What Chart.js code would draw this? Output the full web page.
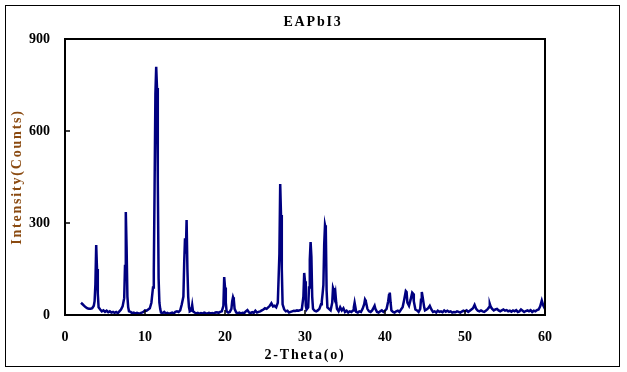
<!DOCTYPE html>
<html>
<head>
<meta charset="utf-8">
<script src="https://cdn.jsdelivr.net/npm/chart.js@4/dist/chart.umd.min.js"></script>
<style>
  html, body { margin: 0; padding: 0; background: #fff; }
  #wrap { width: 627px; height: 372px; }
</style>
</head>
<body>
<div id="wrap"><canvas id="c" width="627" height="372"></canvas></div>
<script>
// XRD pattern of EAPbI3
const twoTheta = [
  2.0, 2.2, 2.4, 2.6, 2.8, 3.0, 3.2, 3.4, 3.6, 3.7, 3.8, 3.9, 4.0, 4.1, 4.2, 4.4, 4.6, 4.8, 5.0, 5.2, 5.4, 5.6, 5.8, 6.0, 6.2, 6.4, 6.6, 6.8,
  7.0, 7.2, 7.4, 7.5, 7.6, 7.7, 7.8, 7.9, 8.0, 8.2, 8.4, 8.6, 8.8, 9.0, 9.2, 9.4, 9.6, 9.8, 10.0, 10.2, 10.4, 10.6, 10.8,
  11.0, 11.1, 11.2, 11.3, 11.4, 11.5, 11.6, 11.7, 11.8, 11.9, 12.0, 12.2, 12.4, 12.6, 12.8, 13.0, 13.2, 13.4, 13.6, 13.8,
  14.0, 14.2, 14.4, 14.6, 14.8, 14.9, 15.0, 15.1, 15.2, 15.3, 15.4, 15.5, 15.6, 15.8, 15.9, 16.0, 16.2, 16.4, 16.6, 16.8,
  17.0, 17.2, 17.4, 17.6, 17.8, 18.0, 18.2, 18.4, 18.6, 18.8, 19.0, 19.2, 19.4, 19.6, 19.8, 19.9, 20.0, 20.1, 20.2, 20.4,
  20.6, 20.8, 20.9, 21.0, 21.1, 21.2, 21.4, 21.6, 21.8, 22.0, 22.2, 22.4, 22.6, 22.8, 23.0, 23.2, 23.4, 23.6, 23.8,
  24.0, 24.2, 24.4, 24.6, 24.8, 25.0, 25.2, 25.4, 25.6, 25.8, 26.0, 26.2, 26.4, 26.6, 26.8, 26.9, 27.0, 27.1, 27.2, 27.4,
  27.6, 27.8, 28.0, 28.2, 28.4, 28.6, 28.8, 29.0, 29.2, 29.4, 29.6, 29.8, 29.9, 30.0, 30.1, 30.2, 30.4, 30.5, 30.6, 30.7,
  30.8, 30.9, 31.0, 31.2, 31.4, 31.6, 31.8, 32.0, 32.1, 32.2, 32.3, 32.4, 32.5, 32.6, 32.7, 32.8, 33.0, 33.2, 33.4, 33.5,
  33.6, 33.7, 33.8, 33.9, 34.0, 34.2, 34.4, 34.6, 34.8, 35.0, 35.2, 35.4, 35.6, 35.8, 36.0, 36.1, 36.2, 36.3, 36.4, 36.6,
  36.8, 37.0, 37.2, 37.4, 37.5, 37.6, 37.8, 38.0, 38.2, 38.4, 38.6, 38.7, 38.8, 39.0, 39.2, 39.4, 39.6, 39.8, 40.0, 40.2,
  40.4, 40.5, 40.6, 40.7, 40.8, 41.0, 41.2, 41.4, 41.6, 41.8, 42.0, 42.2, 42.4, 42.6, 42.7, 42.8, 43.0, 43.2, 43.4, 43.5,
  43.6, 43.8, 44.0, 44.2, 44.4, 44.5, 44.6, 44.7, 44.9, 45.0, 45.2, 45.4, 45.6, 45.8, 46.0, 46.2, 46.4, 46.6, 46.8, 47.0,
  47.2, 47.4, 47.6, 47.8, 48.0, 48.2, 48.4, 48.6, 48.8, 49.0, 49.2, 49.4, 49.6, 49.8, 50.0, 50.2, 50.4, 50.6, 50.8, 51.0,
  51.2, 51.4, 51.6, 51.8, 52.0, 52.2, 52.4, 52.6, 52.8, 53.0, 53.1, 53.2, 53.4, 53.6, 53.8, 54.0, 54.2, 54.4, 54.6, 54.8,
  55.0, 55.2, 55.4, 55.6, 55.8, 56.0, 56.2, 56.4, 56.6, 56.8, 57.0, 57.2, 57.4, 57.6, 57.8, 58.0, 58.2, 58.4, 58.6, 58.8,
  59.0, 59.2, 59.4, 59.6, 59.8, 60.0
];
const intensity = [
  40, 35, 30, 25, 22, 20, 20, 22, 30, 45, 100, 228, 150, 70, 25, 18, 12, 15, 10, 14, 9, 12, 8, 10, 7, 10, 6, 12,
  18, 28, 55, 160, 336, 220, 60, 25, 12, 10, 6, 8, 5, 7, 5, 6, 8, 10, 15, 14, 18, 22, 40,
  90, 140, 420, 720, 809, 740, 440, 120, 40, 20, 8, 6, 10, 5, 7, 4, 6, 8, 5, 10,
  12, 10, 15, 35, 60, 170, 250, 200, 310, 150, 60, 25, 12, 15, 32, 12, 8, 5, 7, 4,
  6, 5, 8, 6, 5, 7, 5, 6, 4, 8, 9, 7, 10, 12, 30, 124, 90, 40, 12, 8,
  10, 20, 45, 58, 50, 20, 8, 6, 8, 5, 7, 6, 12, 16, 8, 6, 9, 7, 14,
  8, 10, 12, 15, 18, 22, 20, 25, 30, 38, 28, 30, 25, 40, 200, 427, 326, 150, 35, 18,
  12, 14, 8, 10, 12, 14, 13, 15, 14, 16, 18, 60, 137, 110, 30, 18, 25, 90, 180, 238,
  190, 60, 20, 14, 12, 15, 20, 35, 45, 70, 98, 230, 293, 280, 80, 25, 20, 15, 40, 88,
  80, 60, 72, 40, 20, 12, 25, 15, 22, 10, 14, 8, 12, 10, 15, 25, 40, 25, 10, 8,
  12, 10, 20, 35, 50, 45, 20, 12, 10, 15, 25, 30, 20, 10, 8, 12, 15, 10, 14, 20,
  45, 65, 73, 40, 15, 10, 8, 12, 14, 10, 18, 25, 50, 78, 75, 40, 30, 50, 73, 70,
  45, 18, 15, 10, 20, 50, 75, 60, 25, 15, 18, 22, 30, 18, 10, 12, 8, 14, 10, 12,
  9, 15, 11, 14, 10, 12, 8, 10, 9, 12, 10, 8, 11, 14, 12, 15, 10, 14, 18, 22,
  33, 20, 14, 12, 15, 12, 10, 14, 18, 25, 36, 28, 20, 15, 18, 20, 15, 12, 15, 18,
  14, 16, 12, 14, 11, 15, 12, 16, 10, 12, 18, 14, 10, 13, 15, 12, 16, 10, 14, 12,
  16, 18, 28, 47, 30, 20
];
const xTicks = [0, 10, 20, 30, 40, 50, 60];
const yTicks = [0, 300, 600, 900];

const FONT = '"Liberation Serif", "DejaVu Serif", serif';

const framePlugin = {
  id: 'frame',
  afterDraw(chart) {
    const { ctx, chartArea: a, scales } = chart;
    ctx.save();
    // outer border round the whole picture
    ctx.strokeStyle = '#000';
    ctx.lineWidth = 1;
    ctx.strokeRect(5.5, 5.5, 614, 361);
    // plot box
    ctx.lineWidth = 2;
    ctx.strokeRect(a.left, a.top, a.right - a.left, a.bottom - a.top);
    // inside tick marks
    ctx.lineWidth = 1.5;
    ctx.beginPath();
    xTicks.forEach(v => {
      const x = scales.x.getPixelForValue(v);
      ctx.moveTo(x, a.bottom);
      ctx.lineTo(x, a.bottom - 5);
    });
    yTicks.forEach(v => {
      const y = scales.y.getPixelForValue(v);
      ctx.moveTo(a.left, y);
      ctx.lineTo(a.left + 5, y);
    });
    ctx.stroke();
    // titles
    ctx.font = 'bold 14px ' + FONT;
    ctx.letterSpacing = '1.8px';
    ctx.fillStyle = '#000';
    ctx.textAlign = 'center';
    ctx.textBaseline = 'middle';
    ctx.fillText('EAPbI3', 313, 22);
    ctx.fillText('2-Theta(o)', (a.left + a.right) / 2, 355);
    ctx.translate(17, (a.top + a.bottom) / 2);
    ctx.rotate(-Math.PI / 2);
    ctx.fillStyle = '#8a4a10';
    ctx.fillText('Intensity(Counts)', 0, 0);
    ctx.restore();
  }
};

new Chart(document.getElementById('c'), {
  type: 'scatter',
  data: {
    datasets: [{
      data: twoTheta.map((t, i) => ({ x: t, y: intensity[i] })),
      showLine: true,
      borderColor: '#000080',
      borderWidth: 2.5,
      pointRadius: 0,
      tension: 0
    }]
  },
  options: {
    responsive: false,
    animation: false,
    layout: { padding: { left: 0, top: 39, right: 82, bottom: 0 } },
    plugins: { legend: { display: false }, tooltip: { enabled: false } },
    scales: {
      x: {
        type: 'linear', min: 0, max: 60,
        afterFit: s => { s.height = 57; },
        afterBuildTicks: s => { s.ticks = xTicks.map(v => ({ value: v })); },
        grid: { display: false, drawTicks: false },
        border: { display: false },
        ticks: { color: '#000', padding: 14, font: { family: FONT, size: 14, weight: 'bold' } }
      },
      y: {
        type: 'linear', min: 0, max: 900,
        afterFit: s => { s.width = 65; },
        afterBuildTicks: s => { s.ticks = yTicks.map(v => ({ value: v })); },
        grid: { display: false, drawTicks: false },
        border: { display: false },
        ticks: { color: '#000', padding: 15, font: { family: FONT, size: 14, weight: 'bold' } }
      }
    }
  },
  plugins: [framePlugin]
});
</script>
</body>
</html>
